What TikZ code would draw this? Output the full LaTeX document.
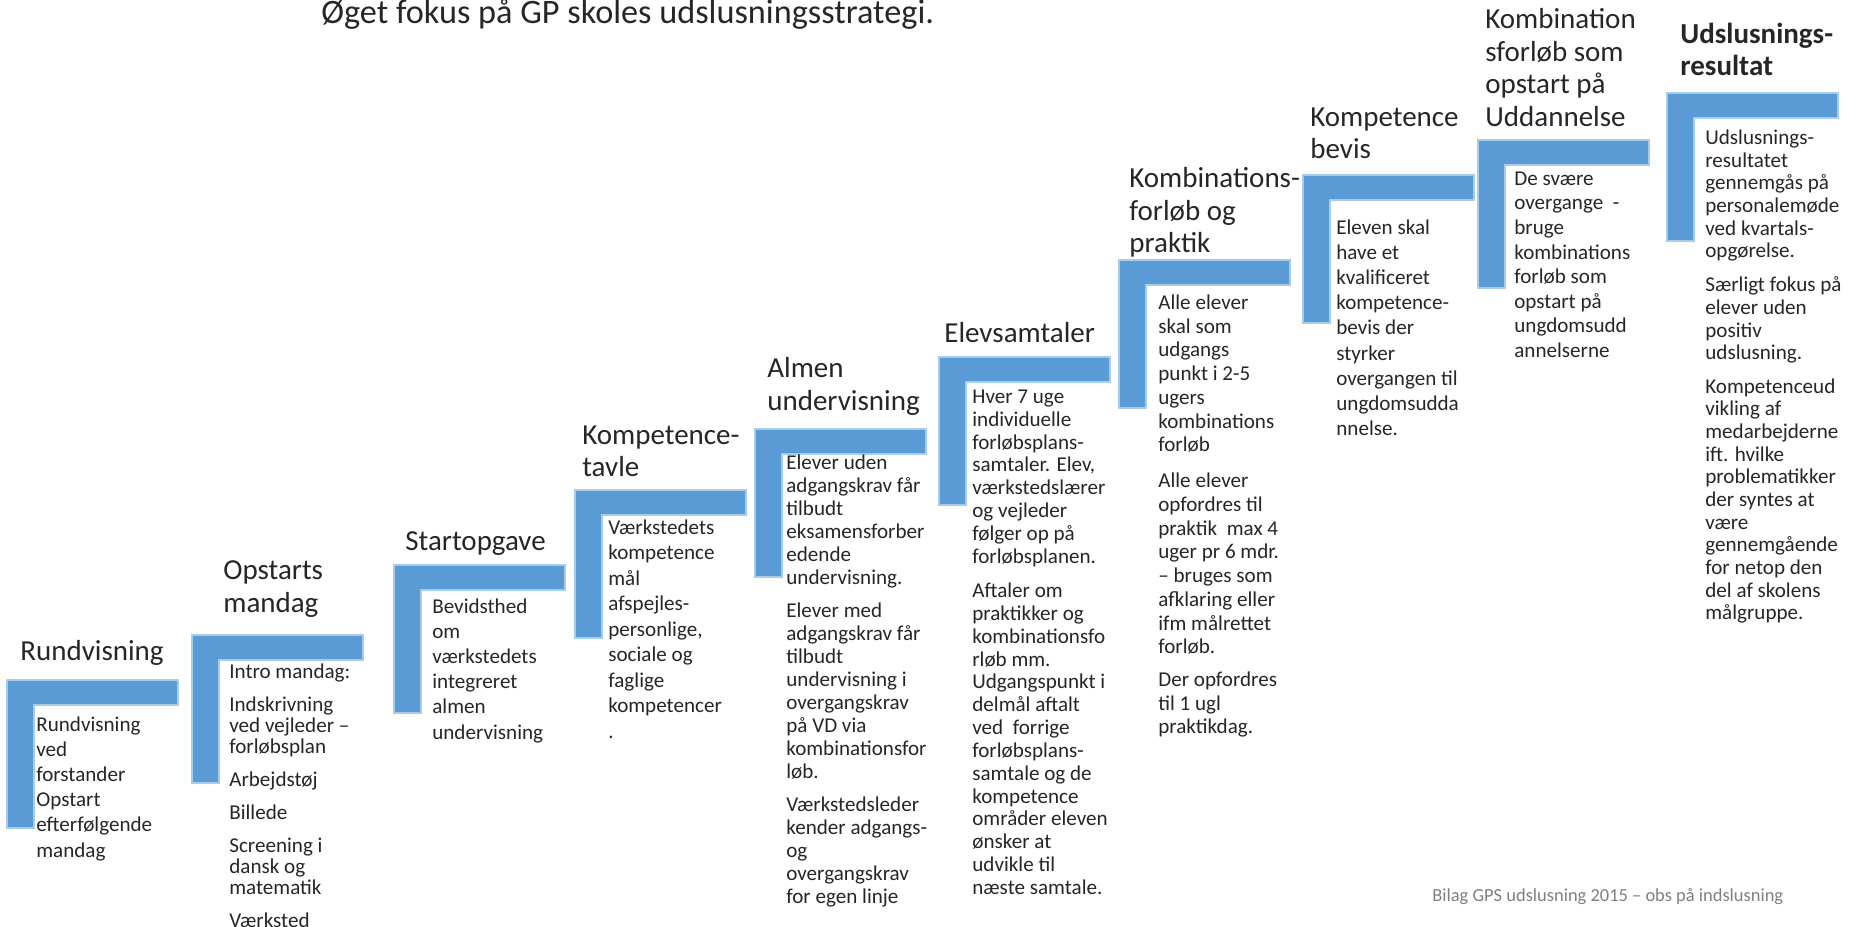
\documentclass[tikz,border=0pt]{standalone}
\usepackage{fontspec}
\setmainfont{Carlito}
\definecolor{stairblue}{HTML}{5B9BD5}
\definecolor{stairedge}{HTML}{A9CBEA}
\definecolor{inkgray}{HTML}{262626}
\definecolor{notegray}{HTML}{7F7F7F}

\begin{document}
\begin{tikzpicture}[x=0.2mm, y=-0.2mm,
    lshape/.style={fill=stairblue, draw=stairedge, line width=0.3mm},
    head/.style={anchor=north west, yshift=14pt, align=left, inner sep=0pt, text=inkgray,
      font=\fontsize{16.5}{18.5}\selectfont, execute at begin node=\rule{0pt}{14pt}},
    txt/.style={anchor=north west, yshift=10pt, align=left, inner sep=0pt, text=inkgray,
      font=\fontsize{12}{#1}\selectfont, execute at begin node=\rule{0pt}{10pt}},
    txt/.default=14.3,
    corner/.pic={\path[lshape] (0,0) -- (171,0) -- (171,25) -- (27,25) -- (27,148) -- (0,148) -- cycle;}]
  \useasboundingbox (0,0) rectangle (1854,927);
  % stairs
  \pic at (7,680)    {corner};
  \pic at (192,635)  {corner};
  \pic at (394,565)  {corner};
  \pic at (575,490)  {corner};
  \pic at (755,429)  {corner};
  \pic at (939,357)  {corner};
  \pic at (1119,260) {corner};
  \pic at (1303,175) {corner};
  \pic at (1478,140) {corner};
  \pic at (1667,93)  {corner};
  % headings
  \node[anchor=base west, inner sep=0pt, text=inkgray, font=\fontsize{19.5}{22}\selectfont] (title) at (321,24) {Øget fokus på GP skoles udslusningsstrategi.};
  \node[head] (rund)  at (20,660)   {Rundvisning};
  \node[head] (opst)  at (223,585)  {Opstarts\\mandag};
  \node[head] (start) at (405,550)  {Startopgave};
  \node[head] (tavle) at (582,450)  {Kompetence-\\tavle};
  \node[head] (almen) at (767,382)  {Almen\\undervisning};
  \node[head] (samt)  at (944,342)  {Elevsamtaler};
  \node[head] (praks) at (1129,192) {Kombinations-\\forløb og\\praktik};
  \node[head] (bevis) at (1310,132) {Kompetence\\bevis};
  \node[head] (uddan) at (1485,33)  {Kombination\\sforløb som\\opstart på\\Uddannelse};
  \node[head, font=\bfseries\fontsize{16.5}{18.5}\selectfont] (resul) at (1680,47) {Udslusnings-\\resultat};
  % texts
  \node[txt] (rundtxt)  at (36,734)   {Rundvisning\\ved\\forstander\\Opstart\\efterfølgende\\mandag};
  \node[txt=12] (opsttxt) at (229,681) {Intro mandag:\\[6.8pt]Indskrivning\\ved vejleder –\\forløbsplan\\[6.8pt]Arbejdstøj\\[6.8pt]Billede\\[6.8pt]Screening i\\dansk og\\matematik\\[6.8pt]Værksted};
  \node[txt] (starttxt) at (432,616)  {Bevidsthed\\om\\værkstedets\\integreret\\almen\\undervisning};
  \node[txt=14.5] (tavletxt) at (608,537) {Værkstedets\\kompetence\\mål\\afspejles-\\personlige,\\sociale og\\faglige\\kompetencer\\.};
  \node[txt=13.1] (almentxt) at (786,472) {Elever uden\\adgangskrav får\\tilbudt\\eksamensforber\\edende\\undervisning.\\[5.7pt]Elever med\\adgangskrav får\\tilbudt\\undervisning i\\overgangskrav\\på VD via\\kombinationsfor\\løb.\\[5.7pt]Værkstedsleder\\kender adgangs-\\og\\overgangskrav\\for egen linje};
  \node[txt=13] (samttxt) at (972,407) {Hver 7 uge\\individuelle\\forløbsplans-\\samtaler. Elev,\\værkstedslærer\\og vejleder\\følger op på\\forløbsplanen.\\[6.5pt]Aftaler om\\praktikker og\\kombinationsfo\\rløb mm.\\Udgangspunkt i\\delmål aftalt\\ved~~forrige\\forløbsplans-\\samtale og de\\kompetence\\områder eleven\\ønsker at\\udvikle til\\næste samtale.};
  \node[txt=13.5] (prakstxt) at (1158,312) {Alle elever\\skal som\\udgangs\\punkt i 2-5\\ugers\\kombinations\\forløb\\[7pt]Alle elever\\opfordres til\\praktik~~max 4\\uger pr 6 mdr.\\– bruges som\\afklaring eller\\ifm målrettet\\forløb.\\[5pt]Der opfordres\\til 1 ugl\\praktikdag.};
  \node[txt=14.3] (bevistxt) at (1336,237) {Eleven skal\\have et\\kvalificeret\\kompetence-\\bevis der\\styrker\\overgangen til\\ungdomsudda\\nnelse.};
  \node[txt=14] (uddantxt) at (1514,189) {De svære\\overgange~~-\\bruge\\kombinations\\forløb som\\opstart på\\ungdomsudd\\annelserne};
  \node[txt=12.9] (resultxt) at (1705,147) {Udslusnings-\\resultatet\\gennemgås på\\personalemøde\\ved kvartals-\\opgørelse.\\[6.5pt]Særligt fokus på\\elever uden\\positiv\\udslusning.\\[6pt]Kompetenceud\\vikling af\\medarbejderne\\ift. hvilke\\problematikker\\der syntes at\\være\\gennemgående\\for netop den\\del af skolens\\målgruppe.};
  \node[anchor=base west, inner sep=0pt, text=notegray, font=\fontsize{10.5}{12}\selectfont] (bilag) at (1432,901) {Bilag GPS udslusning 2015 – obs på indslusning};
\end{tikzpicture}
\end{document}
